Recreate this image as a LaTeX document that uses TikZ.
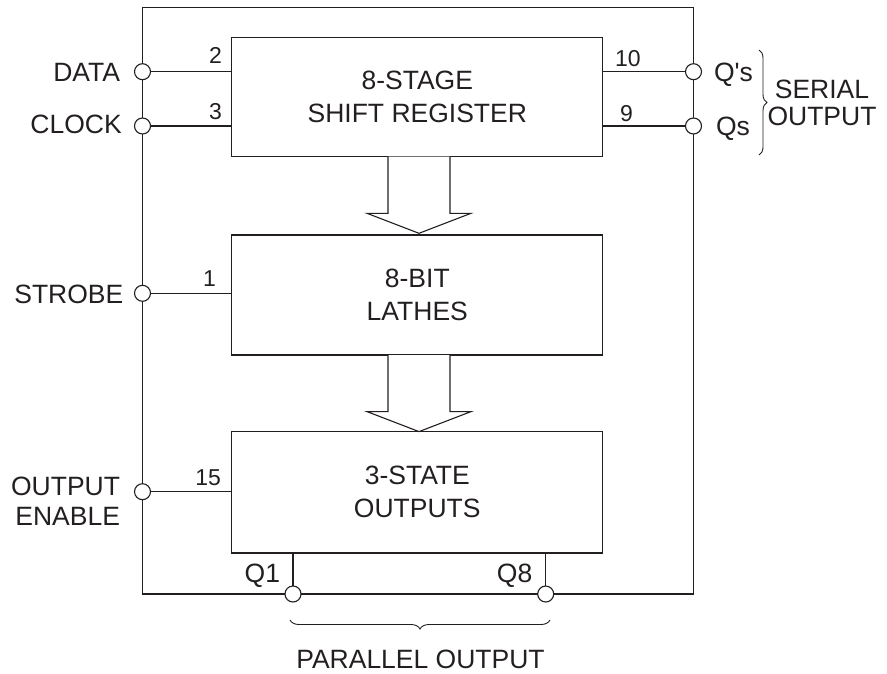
\documentclass[tikz,border=0pt]{standalone}
\usepackage{fontspec}
\setmainfont{Liberation Sans}
\usetikzlibrary{decorations.pathreplacing}
\definecolor{ink}{HTML}{231F20}
\begin{document}
\begin{tikzpicture}[x=1pt,y=-1pt, line width=1.1pt, color=ink,
  every node/.style={inner sep=0pt, outer sep=0pt},
  blk/.style={draw, minimum width=371pt, align=center, font=\fontsize{26.5}{33}\selectfont},
  pin/.style={circle, draw, fill=white, minimum size=16pt, inner sep=0pt},
  num/.style={font=\fontsize{23}{26}\selectfont},
  lbl/.style={font=\fontsize{26.5}{30}\selectfont},
  brc/.style={decorate, line width=0.9pt},
  bigarrow/.pic={\draw[fill=white] (-31,0) -- (-31,56.6) -- (-52,56.6) -- (0,76.6) -- (52,56.6) -- (31,56.6) -- (31,0);}
  ]
\useasboundingbox (0,0) rectangle (887,673);

% package outline
\node[draw, minimum width=551pt, minimum height=586.5pt] (ic) at (418,300.75) {};

% functional blocks
\node[blk, minimum height=119pt] (sr) at (417.3,97.2) {8-STAGE\\SHIFT REGISTER};
\node[blk, minimum height=120pt] (lt) at (417.3,295) {8-BIT\\LATHES};
\node[blk, minimum height=121.3pt] (so) at (417.3,492.3) {3-STATE\\OUTPUTS};

% block arrows
\pic at (419,156.7) {bigarrow};
\pic at (419,355) {bigarrow};

% pins
\node[pin] (pdata) at (142.5,71.7) {};
\node[pin] (pclk)  at (142.5,126) {};
\node[pin] (pstb)  at (142.5,293.3) {};
\node[pin] (poe)   at (142.5,491.7) {};
\node[pin] (pqq)   at (693.5,71.7) {};
\node[pin] (pqs)   at (693.5,126) {};
\node[pin] (pq1)   at (293,594) {};
\node[pin] (pq8)   at (545.7,594) {};

% pin connections
\draw (pdata) -- (pdata -| sr.west);
\draw (pclk)  -- (pclk -| sr.west);
\draw (pstb)  -- (pstb -| lt.west);
\draw (poe)   -- (poe -| so.west);
\draw (pqq)   -- (pqq -| sr.east);
\draw (pqs)   -- (pqs -| sr.east);
\draw (pq1)   -- (pq1 |- so.south);
\draw (pq8)   -- (pq8 |- so.south);

% pin numbers
\node[num, anchor=base east] (n2)  at (222,63.3) {2};
\node[num, anchor=base east] (n3)  at (222,119) {3};
\node[num, anchor=base east] (n1)  at (216,286.7) {1};
\node[num, anchor=base east] (n15) at (221,485) {15};
\node[num, anchor=base west] (n10) at (615,66) {10};
\node[num, anchor=base west] (n9)  at (620,121.7) {9};

% pin names
\node[lbl, anchor=east] (ldata) at (120,72.8) {DATA};
\node[lbl, anchor=east] (lclk)  at (121.7,124.2) {CLOCK};
\node[lbl, anchor=east] (lstb)  at (123.3,294) {STROBE};
\node[lbl, anchor=east, align=right] (loe) at (120,500.8) {OUTPUT\\ENABLE};
\node[lbl, anchor=base west] (lqq) at (714,81.7) {Q\textquotesingle s};
\node[lbl, anchor=base west] (lqs) at (716,135) {Qs};
\node[lbl, anchor=base east] (lq1) at (280,582) {Q1};
\node[lbl, anchor=base east] (lq8) at (532.3,582) {Q8};

% group labels
\draw[brc, decoration={brace, amplitude=8pt}] (759,50) -- (759,155);
\node[lbl, align=center, font=\fontsize{26.5}{27}\selectfont] (lser) at (822,103.3) {SERIAL\\OUTPUT};
\draw[brc, decoration={brace, amplitude=9pt}] (550,620) -- (290,620);
\node[lbl, anchor=base] (lpar) at (420.5,668.3) {PARALLEL OUTPUT};
\end{tikzpicture}
\end{document}
